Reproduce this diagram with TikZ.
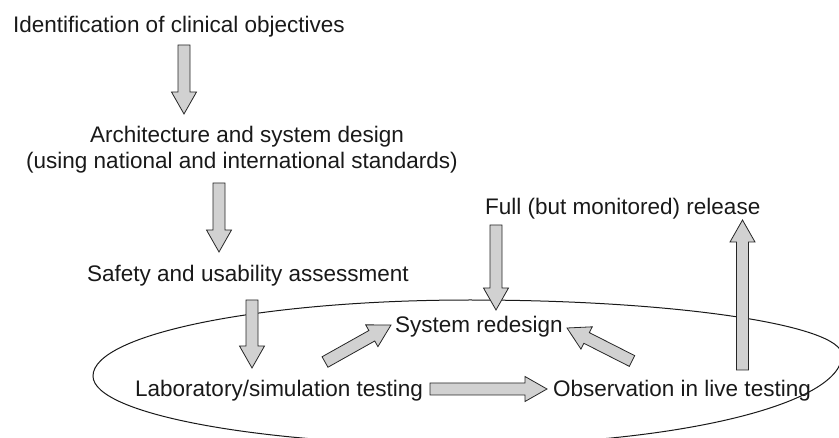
\documentclass[tikz,border=0pt]{standalone}
\usepackage{fontspec}
\setmainfont{Liberation Sans}
\usetikzlibrary{calc}
\tikzset{
  lbl/.style={inner sep=0pt, anchor=base west, font=\fontsize{22.5}{26}\selectfont, text=black!90},
  barrow/.style={fill=black!18, draw=black!85, line width=0.8pt, line join=miter},
  loop/.style={draw=black!90, line width=1pt}
}
\newcommand{\blockarr}[2]{%
  \coordinate (ba-h) at ($(#2)!22pt!(#1)$);
  \filldraw[barrow] ($(#1)!6pt!90:(#2)$) -- ($(ba-h)!6pt!90:(#2)$) -- ($(ba-h)!12.5pt!90:(#2)$) -- (#2)
    -- ($(ba-h)!12.5pt!-90:(#2)$) -- ($(ba-h)!6pt!-90:(#2)$) -- ($(#1)!6pt!-90:(#2)$) -- cycle;
}
\begin{document}
\begin{tikzpicture}[x=1pt,y=-1pt]
\useasboundingbox (0,0) rectangle (839,438);
% loop
\draw[loop] (93,376) .. controls (93,334) and (262,300) .. (470,300)
  .. controls (675,300) and (842,325) .. (842,355)
  .. controls (842,405) and (673,445) .. (465,445)
  .. controls (260,445) and (93,414) .. (93,376) -- cycle;
% texts
\node[lbl] (ident) at (13,33) {Identification of clinical objectives};
\node[lbl, anchor=base] (arch1) at (247,143) {Architecture and system design};
\node[lbl, anchor=base] (arch2) at (242,169) {(using national and international standards)};
\node[lbl] (safety) at (87,282) {Safety and usability assessment};
\node[lbl] (lab) at (135,397) {Laboratory/simulation testing};
\node[lbl] (sysred) at (395,333) {System redesign};
\node[lbl] (obs) at (553,397) {Observation in live testing};
\node[lbl] (full) at (485,215) {Full (but monitored) release};
% arrow end points
\coordinate (a1s) at (184,45);  \coordinate (a1e) at (184,114);
\coordinate (a2s) at (219,183); \coordinate (a2e) at (219,252);
\coordinate (a3s) at (252,300); \coordinate (a3e) at (252,368);
\coordinate (a4s) at (325,362); \coordinate (a4e) at (391,325);
\coordinate (a5s) at (430,389); \coordinate (a5e) at (547,389);
\coordinate (a6s) at (632,361); \coordinate (a6e) at (567,328);
\coordinate (a7s) at (496,225); \coordinate (a7e) at (496,310);
\coordinate (a8s) at (742.5,370); \coordinate (a8e) at (742.5,220);
\blockarr{a1s}{a1e}
\blockarr{a2s}{a2e}
\blockarr{a3s}{a3e}
\blockarr{a4s}{a4e}
\blockarr{a5s}{a5e}
\blockarr{a6s}{a6e}
\blockarr{a7s}{a7e}
\blockarr{a8s}{a8e}
\end{tikzpicture}
\end{document}
